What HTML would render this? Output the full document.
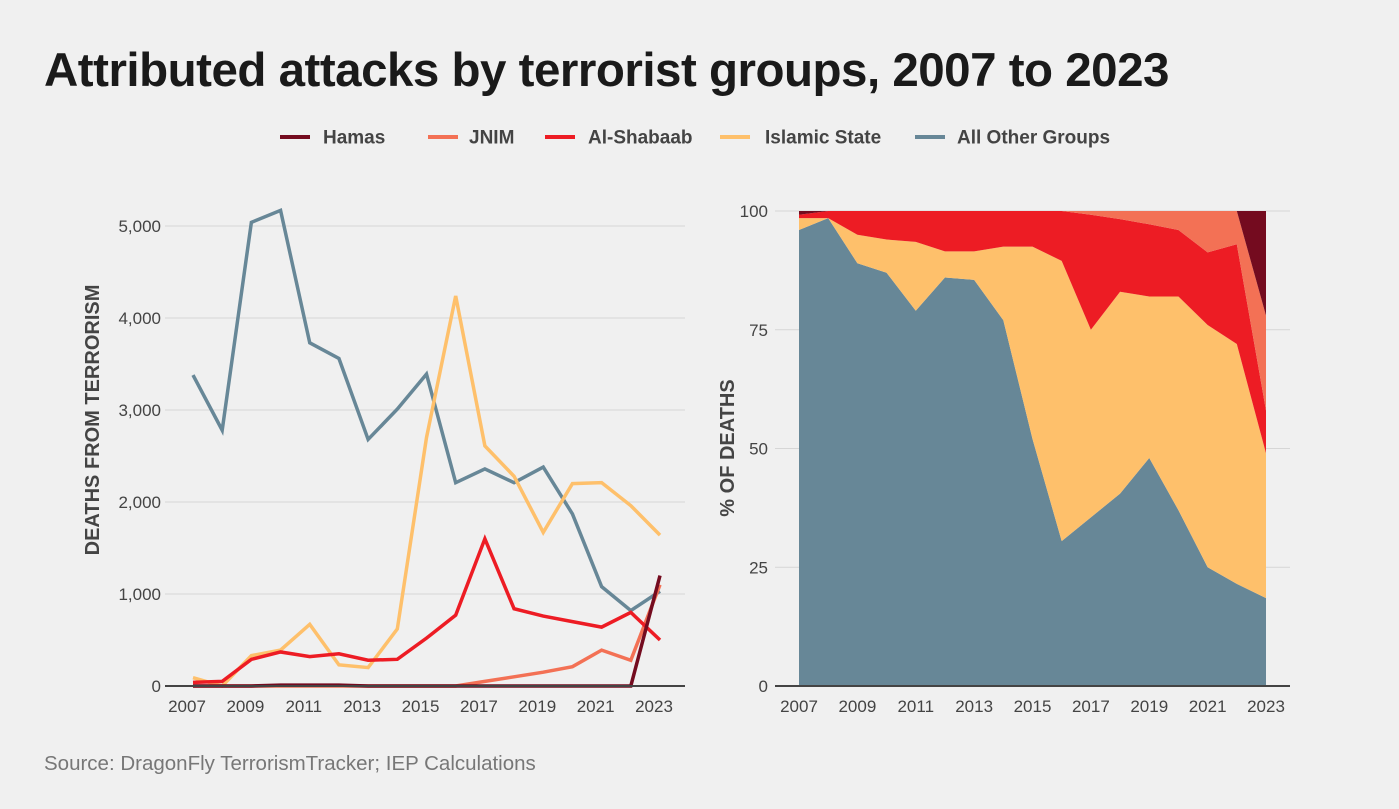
<!DOCTYPE html>
<html><head><meta charset="utf-8">
<style>
body{margin:0;background:#f0f0f0;}
svg{display:block;font-family:"Liberation Sans",Arial,sans-serif;}
</style></head>
<body>
<svg id="chart" width="1399" height="809" viewBox="0 0 1399 809">
<rect width="1399" height="809" fill="#f0f0f0"/>
<text x="44" y="86" font-size="47.5" font-weight="bold" fill="#1a1a1a" letter-spacing="-0.5">Attributed attacks by terrorist groups, 2007 to 2023</text>
<g>
 <g><line x1="280" y1="137" x2="310" y2="137" stroke="#740b1f" stroke-width="4"/><text x="323" y="143.5" font-size="19" font-weight="bold" fill="#444">Hamas</text></g>
 <g><line x1="428" y1="137" x2="458" y2="137" stroke="#f37155" stroke-width="4"/><text x="469" y="143.5" font-size="19" font-weight="bold" fill="#444">JNIM</text></g>
 <g><line x1="545" y1="137" x2="575" y2="137" stroke="#ed1c24" stroke-width="4"/><text x="588" y="143.5" font-size="19" font-weight="bold" fill="#444">Al-Shabaab</text></g>
 <g><line x1="720" y1="137" x2="750" y2="137" stroke="#fec06b" stroke-width="4"/><text x="765" y="143.5" font-size="19" font-weight="bold" fill="#444">Islamic State</text></g>
 <g><line x1="915" y1="137" x2="945" y2="137" stroke="#678797" stroke-width="4"/><text x="957" y="143.5" font-size="19" font-weight="bold" fill="#444">All Other Groups</text></g>
</g>
<g id="left"></g>
<g id="right"></g>
<text x="44" y="770" font-size="20.5" fill="#777">Source: DragonFly TerrorismTracker; IEP Calculations</text>
</svg>
<script>
const years=[2007,2008,2009,2010,2011,2012,2013,2014,2015,2016,2017,2018,2019,2020,2021,2022,2023];
const xTickLabels=["2007","2009","2011","2013","2015","2017","2019","2021","2023"];
const leftTicks=[0,1000,2000,3000,4000,5000];
const rightTicks=[0,25,50,75,100];
const otherDeaths=[3380,2780,5040,5170,3730,3560,2680,3010,3390,2210,2360,2210,2380,1870,1080,820,1030];
const isDeaths=[90,0,330,390,670,230,200,620,2700,4240,2610,2280,1670,2200,2210,1960,1640];
const shabaabDeaths=[40,50,290,370,320,350,280,290,520,770,1600,840,760,700,640,800,500];
const jnimDeaths=[0,0,0,0,0,0,0,0,0,0,50,100,150,210,390,280,1100];
const hamasDeaths=[0,0,0,10,10,10,0,0,0,0,0,0,0,0,0,0,1200];
const otherPct=[96,98.5,89,87,79,86,85.5,77,52,30.5,35.5,40.5,48,37,25,21.5,18.5];
const isPct=[2.5,0,6,7,14.5,5.5,6,15.5,40.5,59,39.5,42.5,34,45,51,50.5,30.5];
const shabaabPct=[0.7,1.5,5,6,6.5,8.5,8.5,7.5,7.5,10.5,24.2,15.3,15.2,14,15.3,21,9];
const jnimPct=[0,0,0,0,0,0,0,0,0,0,0.8,1.7,2.8,4,8.7,7,20];
const hamasPct=[0.8,0,0,0,0,0,0,0,0,0,0,0,0,0,0,0,22];

const NS="http://www.w3.org/2000/svg";
function mk(p,t,a){const e=document.createElementNS(NS,t);for(const k in a)e.setAttribute(k,a[k]);p.appendChild(e);return e;}
const L=document.getElementById('left'),R=document.getElementById('right');
const lx=y=>193+(y-2007)*(660-193)/16, ly=v=>686-v*(460/5000);
const rx=y=>799+(y-2007)*(1266-799)/16, ry=v=>686-v*4.75;

leftTicks.forEach(t=>{
 const g=mk(L,'line',{x1:165,x2:685,y1:ly(t),y2:ly(t),stroke:'#d6d6d6','stroke-width':1});
 
 
 const tx=mk(L,'text',{x:161,y:ly(t)+6,'font-size':17,fill:'#444','text-anchor':'end'});
 tx.textContent=t.toLocaleString('en-US');
 
 
});
xTickLabels.forEach(t=>{
 const tx=mk(L,'text',{x:lx(+t)-6,y:712,'font-size':17,fill:'#444','text-anchor':'middle'});
 tx.textContent=t;
 
 
});
const lt=mk(L,'text',{transform:'translate(99,420) rotate(-90)','font-size':20,'font-weight':'bold',fill:'#444','text-anchor':'middle'});
lt.textContent='DEATHS FROM TERRORISM';


const series=[['all-other',otherDeaths,'#678797'],['islamic-state',isDeaths,'#fec06b'],['jnim',jnimDeaths,'#f37155'],['al-shabaab',shabaabDeaths,'#ed1c24'],['hamas',hamasDeaths,'#740b1f']];
series.forEach(([n,d,c])=>{
 const p=mk(L,'polyline',{points:d.map((v,i)=>lx(years[i])+','+ly(v)).join(' '),fill:'none',stroke:c,'stroke-width':3.5,'stroke-linejoin':'miter'});
 
 
});
const la=mk(L,'line',{x1:165,x2:685,y1:686,y2:686,stroke:'#444','stroke-width':2});



rightTicks.forEach(t=>{
 const g=mk(R,'line',{x1:775,x2:1290,y1:ry(t),y2:ry(t),stroke:'#d6d6d6','stroke-width':1});
 
 
 const tx=mk(R,'text',{x:768,y:ry(t)+6,'font-size':17,fill:'#444','text-anchor':'end'});
 tx.textContent=t;
 
 
});
xTickLabels.forEach(t=>{
 const tx=mk(R,'text',{x:rx(+t),y:712,'font-size':17,fill:'#444','text-anchor':'middle'});
 tx.textContent=t;
 
 
});
const rt=mk(R,'text',{transform:'translate(734,448) rotate(-90)','font-size':20,'font-weight':'bold',fill:'#444','text-anchor':'middle'});
rt.textContent='% OF DEATHS';


const stack=[['all-other',otherPct,'#678797'],['islamic-state',isPct,'#fec06b'],['al-shabaab',shabaabPct,'#ed1c24'],['jnim',jnimPct,'#f37155'],['hamas',hamasPct,'#740b1f']];
let base=years.map(()=>0);
stack.forEach(([n,d,c])=>{
 const top=base.map((b,i)=>b+d[i]);
 const pts=top.map((v,i)=>rx(years[i])+','+ry(v)).concat(base.map((v,i)=>rx(years[i])+','+ry(v)).reverse());
 const p=mk(R,'polygon',{points:pts.join(' '),fill:c});
 
 
 base=top;
});
const ra=mk(R,'line',{x1:775,x2:1290,y1:686,y2:686,stroke:'#444','stroke-width':2});


</script>
</body></html>
